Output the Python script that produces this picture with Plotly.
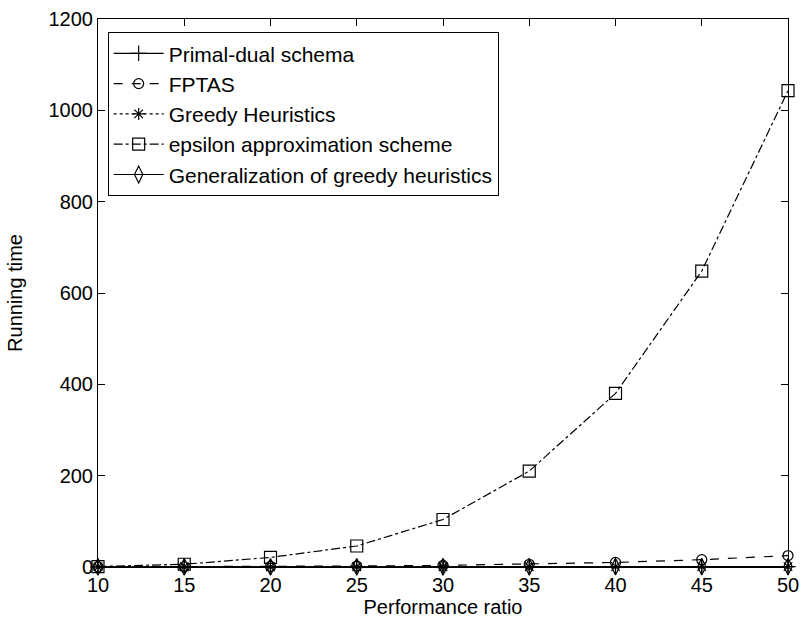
import plotly.graph_objects as go

x_vals = [10, 15, 20, 25, 30, 35, 40, 45, 50]
primal_dual = [0.1, 0.2, 0.3, 0.4, 0.5, 0.6, 0.7, 0.8, 0.9]
fptas = [0.2, 0.6, 1.2, 2.2, 3.5, 6, 10, 16, 25]
greedy = [0.1, 0.2, 0.3, 0.4, 0.5, 0.6, 0.7, 0.8, 0.9]
epsilon = [1, 6, 21, 46, 104, 210, 380, 648, 1043]
generalization = [0.1, 0.2, 0.3, 0.4, 0.5, 0.6, 0.7, 0.8, 0.9]

names = ["Primal-dual schema", "FPTAS", "Greedy Heuristics",
         "epsilon approximation scheme", "Generalization of greedy heuristics"]
series = [primal_dual, fptas, greedy, epsilon, generalization]
dashes = ["solid", "dash", "dot", "dashdot", "solid"]
symbols = ["cross-thin-open", "circle-open", "asterisk-open", "square-open", "diamond-tall-open"]
sizes = [11, 10, 10, 12, 12]

fig = go.Figure()
for n, s, d, sym, sz in zip(names, series, dashes, symbols, sizes):
    fig.add_trace(go.Scatter(
        x=x_vals, y=s, name=n, mode="lines+markers", cliponaxis=False,
        line=dict(color="black", width=1.2, dash=d),
        marker=dict(symbol=sym, size=sz, color="black", line=dict(color="black", width=1.2)),
    ))

font = dict(family="Liberation Sans, Arial, sans-serif", size=20, color="black")
legend_font = dict(family="Liberation Sans, Arial, sans-serif", size=21, color="black")
axis_common = dict(
    showgrid=False, zeroline=False, showline=True, linecolor="black", linewidth=1,
    mirror="ticks", ticks="inside", ticklen=7, tickcolor="black", tickwidth=1,
    tickfont=font, automargin=False, ticklabeloverflow="allow",
)
fig.update_layout(
    width=801, height=624,
    paper_bgcolor="white", plot_bgcolor="white",
    margin=dict(l=98, r=13, t=19, b=57),
    font=font,
    showlegend=True,
    legend=dict(x=0.014, y=0.976, xanchor="left", yanchor="top",
                bgcolor="white", bordercolor="black", borderwidth=1,
                font=legend_font, tracegroupgap=0, itemwidth=50),
    xaxis=dict(range=[10, 50], tickvals=[10, 15, 20, 25, 30, 35, 40, 45, 50],
               title=dict(text="Performance ratio", font=font, standoff=2), **axis_common),
    yaxis=dict(range=[0, 1200], tickvals=[0, 200, 400, 600, 800, 1000, 1200],
               title=dict(text="Running time", font=font, standoff=20), **axis_common),
)
fig.write_html("out.html", config={"displayModeBar": False},
               post_script="document.body.style.margin='0';document.body.style.overflow='hidden';")
